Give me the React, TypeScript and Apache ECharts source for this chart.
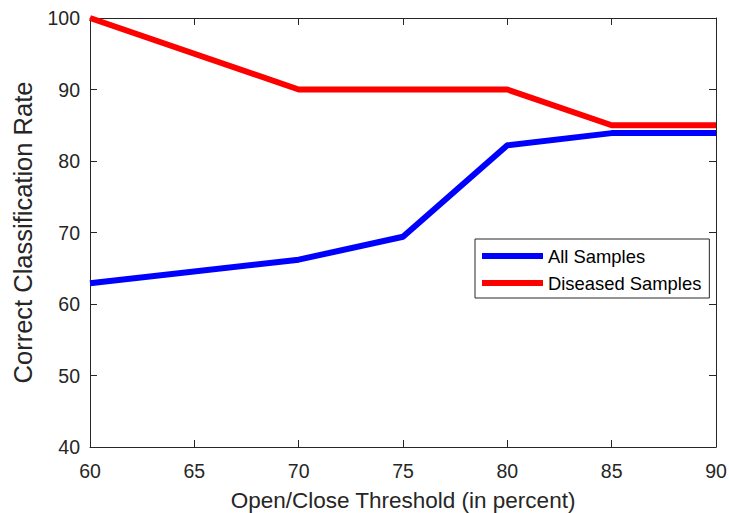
import React, { useEffect, useRef } from "react";
import * as echarts from "echarts";

const thresholds = [60, 70, 75, 80, 85, 90];
const allSamples = [62.9, 66.2, 69.4, 82.2, 83.9, 83.9];
const diseasedSamples = [100, 90, 90, 90, 85, 85];
const seriesNames = ["All Samples", "Diseased Samples"];

export default function App() {
  const ref = useRef<HTMLDivElement>(null);
  useEffect(() => {
    if (!ref.current) return;
    const chart = echarts.init(ref.current, null, { renderer: "svg" });
    const font = "Liberation Sans, Arial, Helvetica, sans-serif";
    const axisColor = "#262626";
    const baseX = {
      type: "value" as const,
      min: 60,
      max: 90,
      interval: 5,
      axisLine: { show: true, lineStyle: { color: axisColor, width: 1 } },
      axisTick: { show: true, inside: true, length: 7, lineStyle: { color: axisColor } },
      splitLine: { show: false },
    };
    const baseY = {
      type: "value" as const,
      min: 40,
      max: 100,
      interval: 10,
      axisLine: { show: true, lineStyle: { color: axisColor, width: 1 } },
      axisTick: { show: true, inside: true, length: 7, lineStyle: { color: axisColor } },
      splitLine: { show: false },
    };
    chart.setOption({
      animation: false,
      backgroundColor: "#ffffff",
      textStyle: { fontFamily: font },
      grid: {
        left: 90,
        right: 13,
        top: 18,
        bottom: 66,
        containLabel: false,
        outerBoundsMode: "none",
      },
      legend: {
        data: seriesNames,
        orient: "vertical",
        left: 475,
        top: 239,
        padding: [7, 8, 5, 7],
        itemGap: 7,
        itemWidth: 61,
        itemHeight: 6,
        icon: "rect",
        borderColor: axisColor,
        borderWidth: 1,
        backgroundColor: "#ffffff",
        textStyle: { fontFamily: font, fontSize: 18.4, lineHeight: 20, color: "#000000" },
      },
      xAxis: [
        {
          ...baseX,
          position: "bottom",
          name: "Open/Close Threshold (in percent)",
          nameLocation: "middle",
          nameGap: 42,
          nameTextStyle: { fontFamily: font, fontSize: 22.5, color: axisColor },
          axisLabel: { fontFamily: font, fontSize: 19.5, color: axisColor, margin: 14 },
        },
        { ...baseX, position: "top", axisLabel: { show: false } },
      ],
      yAxis: [
        {
          ...baseY,
          position: "left",
          name: "Correct Classification Rate",
          nameLocation: "middle",
          nameGap: 54,
          nameTextStyle: { fontFamily: font, fontSize: 25.5, color: axisColor },
          axisLabel: { fontFamily: font, fontSize: 19.5, color: axisColor, margin: 10 },
        },
        { ...baseY, position: "right", axisLabel: { show: false } },
      ],
      series: [
        {
          name: seriesNames[0],
          type: "line",
          data: thresholds.map((t, i) => [t, allSamples[i]]),
          showSymbol: false,
          symbol: "none",
          lineStyle: { color: "#0000ff", width: 6 },
          itemStyle: { color: "#0000ff" },
        },
        {
          name: seriesNames[1],
          type: "line",
          data: thresholds.map((t, i) => [t, diseasedSamples[i]]),
          showSymbol: false,
          symbol: "none",
          lineStyle: { color: "#ff0000", width: 6 },
          itemStyle: { color: "#ff0000" },
        },
      ],
    });
    return () => chart.dispose();
  }, []);
  return <div ref={ref} style={{ width: 729, height: 513, position: "absolute", left: 0, top: 0 }} />;
}
